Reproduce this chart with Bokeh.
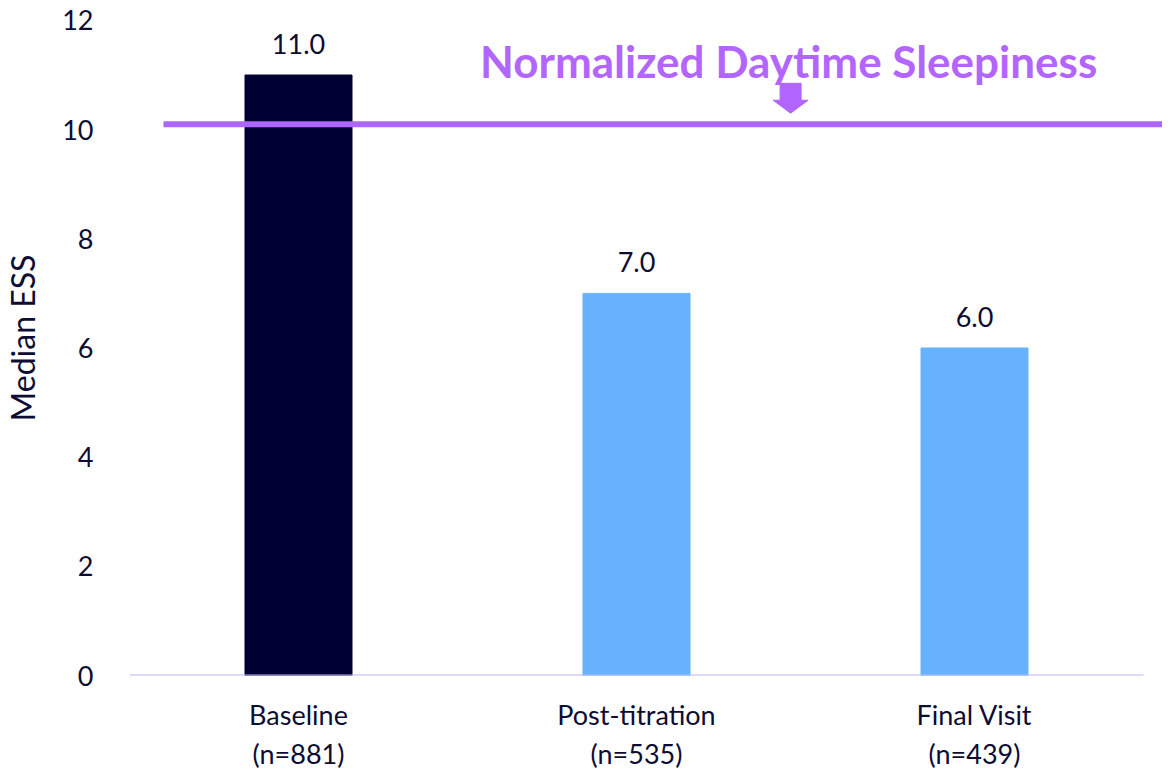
from bokeh.plotting import figure
from bokeh.models import FixedTicker, Range1d, ColumnDataSource
from bokeh.core.properties import value
from bokeh.embed import file_html
from bokeh.resources import INLINE

categories = ["Baseline\n(n=881)", "Post-titration\n(n=535)", "Final Visit\n(n=439)"]
medians = [11.0, 7.0, 6.0]
bar_colors = ["#000033", "#66B2FF", "#66B2FF"]
value_labels = ["11.0", "7.0", "6.0"]
y_ticks = [0, 2, 4, 6, 8, 10, 12]
threshold = 10.1
threshold_label = "Normalized Daytime Sleepiness"

FONT = "Lato"
TXT = "#0D0D33"
PURPLE = "#B266FF"

xs = list(range(len(categories)))
PX_X = 338.0   # px per category
PX_Y = 54.75   # px per unit
FRAME_H = 677

p = figure(width=1162, height=773, output_backend="svg", toolbar_location=None,
           x_range=Range1d(-0.5, 2.5 + 19 / PX_X), y_range=Range1d(0, FRAME_H / PX_Y),
           min_border_left=128, min_border_right=0, min_border_top=0, min_border_bottom=96)
p.outline_line_color = None
p.grid.visible = False
p.background_fill_color = "white"

src = ColumnDataSource(dict(x=xs, top=medians, color=bar_colors, lab=value_labels))
p.vbar(x="x", top="top", bottom=0, width=107 / PX_X, color="color", source=src)
p.text(x="x", y="top", text="lab", source=src, text_align="center", text_baseline="alphabetic",
       y_offset=-31, text_font=value(FONT), text_font_size="27px", text_color=TXT)

# baseline
p.line(x=[-0.5, len(categories) - 0.5], y=[0, 0], line_color="#B8B8F0", line_width=2)

# threshold line
p.line(x=[-0.5 + 34 / PX_X, 2.5 + 19 / PX_X], y=[threshold, threshold], line_color="#AD66FC", line_width=6)

# label and arrow
cx = 1.45
ax = cx + 2 / PX_X
top_y = threshold + (124 - 83) / PX_Y
mid_y = threshold + (124 - 100) / PX_Y
tip_y = threshold + (124 - 113) / PX_Y
bw, hw = 10.5 / PX_X, 17.5 / PX_X
p.patch(x=[ax - bw, ax + bw, ax + bw, ax + hw, ax, ax - hw, ax - bw],
        y=[top_y, top_y, mid_y, mid_y, tip_y, mid_y, mid_y], color=PURPLE)
p.text(x=[cx], y=[threshold + (124.5 - 61) / PX_Y], text=[threshold_label], text_align="center",
       text_baseline="alphabetic", text_font=value(FONT), text_font_style="bold",
       text_font_size="44px", text_color=PURPLE)

# axes
xa = p.xaxis[0]
xa.ticker = FixedTicker(ticks=xs)
xa.major_label_overrides = {i: c for i, c in enumerate(categories)}
xa.axis_line_color = None
xa.major_tick_line_color = None
xa.minor_tick_line_color = None
xa.major_label_standoff = 16
xa.major_label_text_font = FONT
xa.major_label_text_font_size = "27px"
xa.major_label_text_color = TXT

ya = p.yaxis[0]
ya.ticker = FixedTicker(ticks=y_ticks)
ya.axis_line_color = None
ya.major_tick_line_color = None
ya.minor_tick_line_color = None
ya.major_label_standoff = 30
ya.major_label_text_font = FONT
ya.major_label_text_font_size = "27px"
ya.major_label_text_color = TXT
ya.axis_label = "Median ESS"
ya.axis_label_text_font = FONT
ya.axis_label_text_font_style = "normal"
ya.axis_label_text_font_size = "32px"
ya.axis_label_text_color = TXT
ya.axis_label_standoff = 17

open("out.html", "w").write(file_html(p, INLINE))
